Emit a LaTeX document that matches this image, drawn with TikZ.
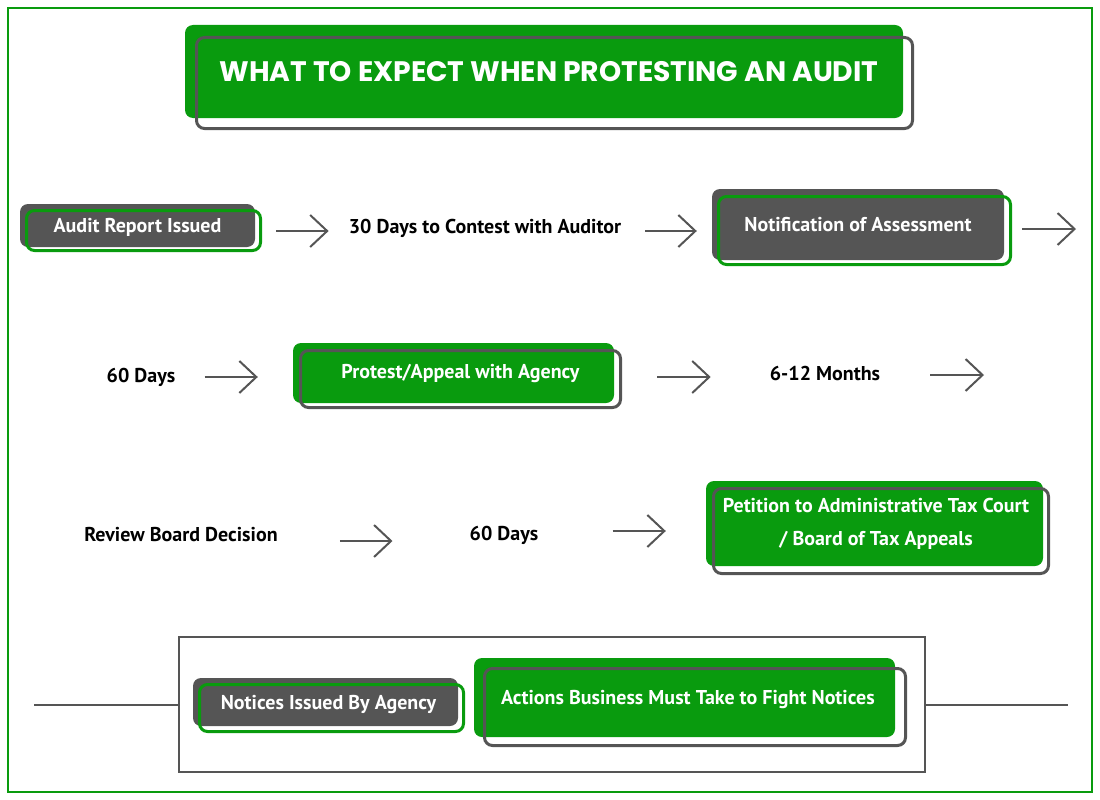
\documentclass[tikz,border=0pt]{standalone}
\usepackage{fontspec}
\setmainfont{PT Sans}
\newfontfamily\headfont{Poppins}
\usetikzlibrary{arrows.meta}
\definecolor{tgreen}{RGB}{9,155,14}
\definecolor{tgray}{RGB}{85,85,85}
\tikzstyle{label} = [inner sep=0pt, text centered, font=\bfseries\fontsize{20}{33}\selectfont]
\tikzstyle{graybox} = [label, rectangle, rounded corners=8pt, fill=tgray, text=white]
\tikzstyle{greenbox} = [label, rectangle, rounded corners=8pt, fill=tgreen, text=white]
\tikzstyle{greenedge} = [rectangle, rounded corners=8pt, draw=tgreen, line width=3pt, inner sep=0pt]
\tikzstyle{grayedge} = [rectangle, rounded corners=8pt, draw=tgray, line width=3pt, inner sep=0pt]
\tikzstyle{arrow} = [tgray, line width=2pt, -{Straight Barb[length=17pt, width=32pt]}]

\begin{document}
\begin{tikzpicture}[x=1pt, y=-1pt]
\useasboundingbox (0,0) rectangle (1100,800);
\draw [tgreen, line width=2pt] (8,8) rectangle (1092,792);

% title
\node (title) [greenbox, minimum width=718pt, minimum height=93pt, font=\headfont\bfseries\fontsize{28.2}{32}\selectfont] at (544,71.5) {\hspace{10pt}WHAT TO EXPECT WHEN PROTESTING AN AUDIT};
\node (titleframe) [grayedge, minimum width=716pt, minimum height=91pt] at (554.5,83) {};

% first row
\node (audit) [graybox, minimum width=235pt, minimum height=43pt, text depth=0pt] at (137.5,225.5) {Audit Report Issued};
\node (auditframe) [greenedge, minimum width=234pt, minimum height=40pt] at (143.5,230.5) {};
\node (contest) [label] at (485,228) {30 Days to Contest with Auditor};
\node (notif) [graybox, minimum width=292pt, minimum height=71pt] at (858,224.5) {Notification of Assessment};
\node (notifframe) [greenedge, minimum width=292pt, minimum height=68pt] at (864.5,230.5) {};
\coordinate (rowoneend) at (1076,229);

% second row
\node (daysone) [label] at (141,377) {60 Days};
\node (protest) [greenbox, minimum width=321pt, minimum height=60pt] at (453.5,373) {\hspace{14pt}Protest/Appeal with Agency};
\node (protestframe) [grayedge, minimum width=320pt, minimum height=57pt] at (460.5,379) {};
\node (months) [label] at (825,373) {6-12 Months};
\coordinate (rowtwoend) at (984,375);

% third row
\node (review) [label] at (181,535) {Review Board Decision};
\node (daystwo) [label] at (504,535) {60 Days};
\node (petition) [greenbox, align=center, minimum width=337pt, minimum height=85pt] at (874.5,523.5) {\hspace{3pt}Petition to Administrative Tax Court\\\hspace{3pt}/ Board of Tax Appeals};
\node (petitionframe) [grayedge, minimum width=335pt, minimum height=85pt] at (881,531) {};

% legend
\node (panel) [draw=tgray, line width=2.5pt, minimum width=746pt, minimum height=135pt] at (552,704.5) {};
\coordinate (lineleft) at (34,705);
\coordinate (lineright) at (1068,705);
\node (notices) [graybox, minimum width=265pt, minimum height=48pt, text depth=0pt] at (325.5,702) {\hspace{6pt}Notices Issued By Agency};
\node (noticesframe) [greenedge, minimum width=264pt, minimum height=47pt] at (331.5,708) {};
\node (actions) [greenbox, minimum width=421pt, minimum height=79pt, text depth=0pt] at (684.5,697.5) {\hspace{7pt}Actions Business Must Take to Fight Notices};
\node (actionsframe) [grayedge, minimum width=421pt, minimum height=77pt] at (695,707) {};

\draw [arrow, shorten <=21pt, shorten >=20pt] ([yshift=-5.5pt]audit.east) -- ([yshift=-5.5pt]audit.east -| contest.west);
\draw [arrow, shorten <=24pt, shorten >=15pt] ([yshift=-3pt]contest.east) -- ([yshift=-3pt]contest.east -| notif.west);
\draw [arrow, shorten <=18pt] (notif.east |- rowoneend) -- (rowoneend);
\draw [arrow, shorten <=29pt, shorten >=35pt] (daysone.east) -- (daysone.east -| protest.west);
\draw [arrow, shorten <=43pt, shorten >=59pt] ([yshift=-4pt]protest.east) -- ([yshift=-4pt]protest.east -| months.west);
\draw [arrow, shorten <=50pt] (months.east |- rowtwoend) -- (rowtwoend);
\draw [arrow, shorten <=62pt, shorten >=77pt] ([yshift=-6pt]review.east) -- ([yshift=-6pt]review.east -| daystwo.west);
\draw [arrow, shorten <=74pt, shorten >=40pt] ([yshift=4pt]daystwo.east) -- ([yshift=4pt]daystwo.east -| petition.west);
\draw [tgray, line width=2pt] (lineleft) -- (lineleft -| panel.west);
\draw [tgray, line width=2pt] (panel.east |- lineright) -- (lineright);

\end{tikzpicture}
\end{document}
